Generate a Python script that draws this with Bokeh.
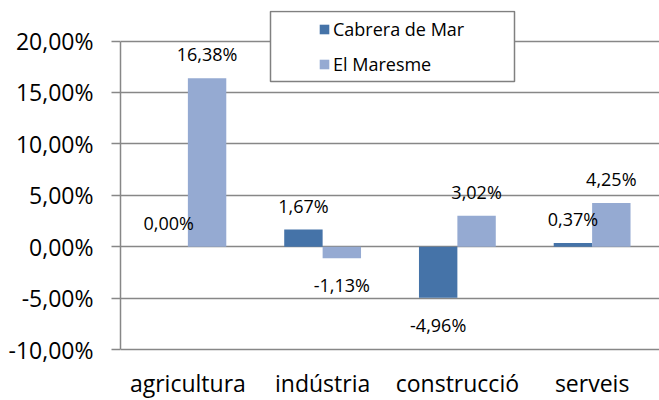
from bokeh.plotting import figure
from bokeh.models import (ColumnDataSource, FactorRange, Range1d, FixedTicker,
                          LabelSet, Legend, LegendItem, BoxAnnotation)
from bokeh.transform import dodge
from bokeh.core.properties import value
from bokeh.embed import file_html
from bokeh.resources import INLINE

categories = ["agricultura", "indústria", "construcció", "serveis"]
series_names = ["Cabrera de Mar", "El Maresme"]
cabrera = [0.00, 1.67, -4.96, 0.37]
maresme = [16.38, -1.13, 3.02, 4.25]
y_ticks = [-10, -5, 0, 5, 10, 15, 20]
y_tick_labels = ["-10,00%", "-5,00%", "0,00%", "5,00%", "10,00%", "15,00%", "20,00%"]
y_min, y_max = -10, 20

# the frame reaches past the tick range so the legend box and category
# labels sit inside it (annotations are clipped to the frame)
Y_TOP = 22.97
Y_BOTTOM = -14.96

FONT = "Open Sans"
DARK = "#4573A8"
LIGHT = "#95AAD2"
GRID = "#878787"


def fmt(v):
    return f"{v:.2f}%".replace(".", ",")


def offs(vals):
    return [24 if v >= 0 else -27 for v in vals]


src = ColumnDataSource(dict(
    cat=categories, c=cabrera, m=maresme,
    c_lab=[fmt(v) for v in cabrera], m_lab=[fmt(v) for v in maresme],
    c_off=offs(cabrera), m_off=offs(maresme),
    base=[y_min] * len(categories),
))

p = figure(width=659, height=400, x_range=FactorRange(*categories),
           y_range=Range1d(Y_BOTTOM, Y_TOP), output_backend="svg",
           toolbar_location=None, min_border_left=120, min_border_right=0,
           min_border_top=10, min_border_bottom=0)
p.outline_line_color = None
p.background_fill_color = "white"
p.border_fill_color = "white"
p.xgrid.visible = False
p.xaxis.visible = False
p.ygrid.ticker = FixedTicker(ticks=y_ticks)
p.ygrid.grid_line_color = GRID
p.ygrid.grid_line_width = 1.5

ya = p.yaxis[0]
ya.ticker = FixedTicker(ticks=y_ticks)
ya.bounds = (y_min, y_max)
ya.major_label_overrides = {t: l for t, l in zip(y_ticks, y_tick_labels)}
ya.axis_line_color = GRID
ya.axis_line_width = 1.5
ya.major_tick_line_color = GRID
ya.major_tick_line_width = 1.5
ya.major_tick_out = 9
ya.major_tick_in = 0
ya.minor_tick_line_color = None
ya.major_label_standoff = 18
ya.major_label_text_font = FONT
ya.major_label_text_font_size = "23px"
ya.major_label_text_color = "black"

BAR_W = 0.285
OFF = BAR_W / 2
r1 = p.vbar(x=dodge("cat", -OFF, range=p.x_range), top="c", width=BAR_W,
            source=src, fill_color=DARK, line_color=None)
r2 = p.vbar(x=dodge("cat", OFF, range=p.x_range), top="m", width=BAR_W,
            source=src, fill_color=LIGHT, line_color=None)

for col, lab, off, dx in [("c", "c_lab", "c_off", -OFF), ("m", "m_lab", "m_off", OFF)]:
    ls = LabelSet(x=dodge("cat", dx, range=p.x_range), y=col, text=lab,
                  y_offset=off, source=src, text_align="center",
                  text_baseline="middle", text_font=value(FONT),
                  text_font_size="18px", text_color="black")
    p.add_layout(ls)

cat_labels = LabelSet(x="cat", y="base", text="cat", y_offset=-42, source=src,
                      text_align="center", text_baseline="alphabetic",
                      text_font=value(FONT), text_font_size="23px",
                      text_color="black")
p.add_layout(cat_labels)

box = BoxAnnotation(left=150, right=394, top=389, bottom=319,
                    left_units="screen", right_units="screen",
                    top_units="screen", bottom_units="screen",
                    fill_color="white", fill_alpha=1.0,
                    line_color="#808080", line_alpha=1.0, line_width=1.5,
                    level="underlay")
p.add_layout(box)

legend = Legend(items=[LegendItem(label=value(series_names[0]), renderers=[r1]),
                       LegendItem(label=value(series_names[1]), renderers=[r2])],
                location=(198, 324), padding=0, margin=0, spacing=11,
                glyph_width=12, glyph_height=12, label_standoff=3,
                label_text_font=FONT, label_text_font_size="18px",
                label_text_color="black", border_line_color=None,
                background_fill_alpha=0)
p.add_layout(legend, "center")

open("out.html", "w").write(file_html(p, INLINE))
